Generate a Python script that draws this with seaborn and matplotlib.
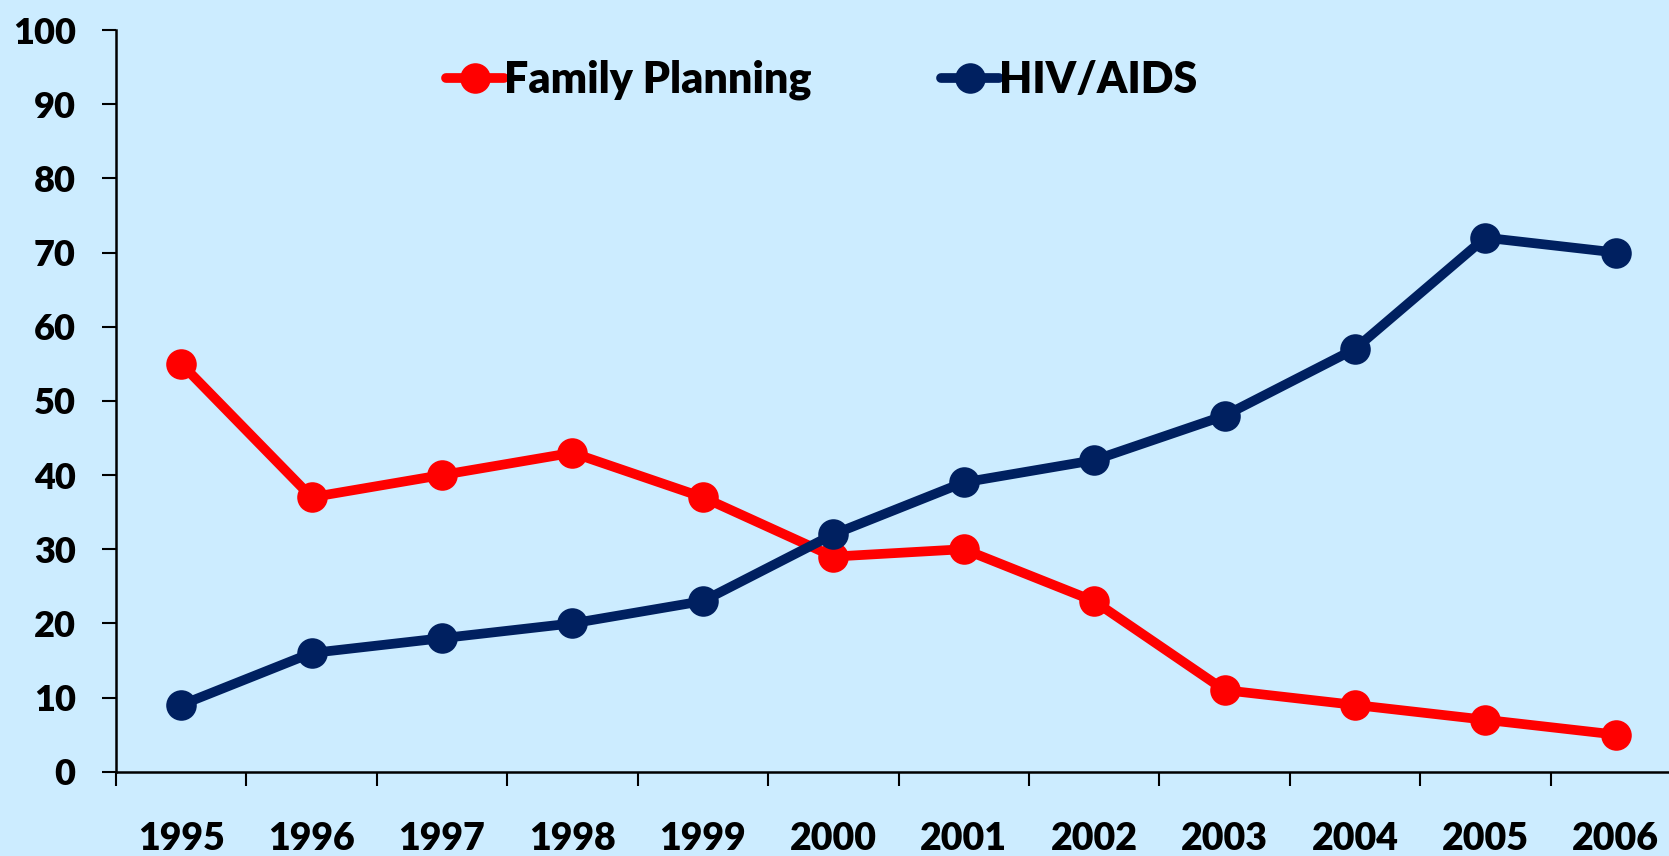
import matplotlib
matplotlib.use("Agg")
import matplotlib.pyplot as plt
from matplotlib.ticker import FixedLocator, NullFormatter
import seaborn as sns
import pandas as pd

years = [1995, 1996, 1997, 1998, 1999, 2000, 2001, 2002, 2003, 2004, 2005, 2006]
family_planning = [55, 37, 40, 43, 37, 29, 30, 23, 11, 9, 7, 5]
hiv_aids = [9, 16, 18, 20, 23, 32, 39, 42, 48, 57, 72, 70]
series_names = ["Family Planning", "HIV/AIDS"]
series_colors = ["#FF0000", "#002060"]
y_ticks = list(range(0, 101, 10))

bg = "#CCECFF"

df = pd.DataFrame({
    "year": years * 2,
    "value": family_planning + hiv_aids,
    "series": [series_names[0]] * len(years) + [series_names[1]] * len(years),
})

sns.set_style("white")
plt.rcParams['font.family'] = ['Lato', 'DejaVu Sans']
plt.rcParams['font.weight'] = 'heavy'
plt.rcParams['text.color'] = 'black'

fig = plt.figure(figsize=(16.69, 8.56), dpi=100, facecolor=bg)
ax = fig.add_axes([116 / 1669, 84.3 / 856, 1565 / 1669, 741.7 / 856])
ax.set_facecolor(bg)

sns.lineplot(data=df, x="year", y="value", hue="series", hue_order=series_names,
             palette=series_colors, marker="o", markersize=22, markeredgewidth=0,
             linewidth=7, legend=False, ax=ax)

ax.set_xlim(years[0] - 0.5, years[-1] + 0.5)
ax.set_ylim(0, 100)
ax.set_xlabel("")
ax.set_ylabel("")

# category boundaries get the tick marks, labels sit at the centres
ax.xaxis.set_major_locator(FixedLocator([y - 0.5 for y in years] + [years[-1] + 0.5]))
ax.xaxis.set_major_formatter(NullFormatter())
ax.xaxis.set_minor_locator(FixedLocator(years))
ax.set_xticklabels([str(y) for y in years], minor=True)
ax.tick_params(axis="x", which="major", direction="out", length=10, width=1.5, color="black", bottom=True)
ax.tick_params(axis="x", which="minor", length=0, pad=36, labelsize=27, labelcolor="black", bottom=True)

ax.set_yticks(y_ticks)
ax.tick_params(axis="y", direction="out", length=10, width=1.5, color="black", left=True,
               pad=19, labelsize=26, labelcolor="black")
for lbl in ax.get_xticklabels(minor=True) + ax.get_yticklabels():
    lbl.set_fontweight("heavy")

for side in ["top", "right"]:
    ax.spines[side].set_visible(False)
for side in ["left", "bottom"]:
    ax.spines[side].set_color("black")
    ax.spines[side].set_linewidth(1.8)

ax.legend(handles=ax.get_lines()[:2], labels=series_names, ncol=2, frameon=False,
          loc="center left", bbox_to_anchor=((446 - 116) / 1565, (771.7 - 80) / 741.7),
          borderaxespad=0, borderpad=0, handlelength=1.35, handletextpad=0.0, columnspacing=3.0,
          prop={"size": 31, "weight": "heavy"})

fig.savefig("out.png", dpi=100, facecolor=bg)
